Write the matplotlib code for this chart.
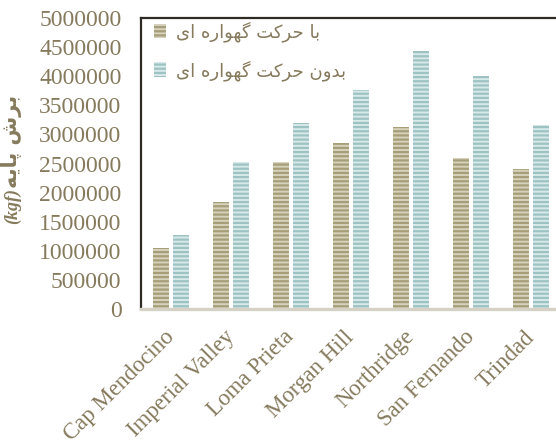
import numpy as np
import matplotlib
matplotlib.use("Agg")
import matplotlib.pyplot as plt
from matplotlib.patches import Patch

# ---------------- data ----------------
categories = ["Cap Mendocino", "Imperial Valley", "Loma Prieta", "Morgan Hill",
              "Northridge", "San Fernando", "Trindad"]
with_cradle = [1040000, 1840000, 2530000, 2860000, 3130000, 2600000, 2400000]
without_cradle = [1270000, 2530000, 3190000, 3770000, 4430000, 4000000, 3160000]
series_names = ["با حرکت گهواره ای", "بدون حرکت گهواره ای"]
ylabel_fa = "برش پایه"
ylabel_unit = "(kgf)"
yticks = [0, 500000, 1000000, 1500000, 2000000, 2500000, 3000000,
          3500000, 4000000, 4500000, 5000000]

# ------------- minimal Persian shaping -------------
FORMS = {
    "ا": ("\uFE8D", "\uFE8E", None, None),
    "ب": ("\uFE8F", "\uFE90", "\uFE91", "\uFE92"),
    "ح": ("\uFEA1", "\uFEA2", "\uFEA3", "\uFEA4"),
    "ر": ("\uFEAD", "\uFEAE", None, None),
    "ک": ("\uFB8E", "\uFB8F", "\uFB90", "\uFB91"),
    "ت": ("\uFE95", "\uFE96", "\uFE97", "\uFE98"),
    "گ": ("\uFB92", "\uFB93", "\uFB94", "\uFB95"),
    "ه": ("\uFEE9", "\uFEEA", "\uFEEB", "\uFEEC"),
    "و": ("\uFEED", "\uFEEE", None, None),
    "ی": ("\uFBFC", "\uFBFD", "\uFBFE", "\uFBFF"),
    "د": ("\uFEA9", "\uFEAA", None, None),
    "ن": ("\uFEE5", "\uFEE6", "\uFEE7", "\uFEE8"),
    "ش": ("\uFEB5", "\uFEB6", "\uFEB7", "\uFEB8"),
    "پ": ("\uFB56", "\uFB57", "\uFB58", "\uFB59"),
}


def dual(c):
    return c in FORMS and FORMS[c][2] is not None


def shape(s):
    out = []
    for i, c in enumerate(s):
        if c not in FORMS:
            out.append(c)
            continue
        jp = i > 0 and dual(s[i - 1])
        jn = dual(c) and i + 1 < len(s) and s[i + 1] in FORMS
        iso, fin, ini, med = FORMS[c]
        if jp and jn:
            out.append(med)
        elif jp:
            out.append(fin)
        elif jn:
            out.append(ini)
        else:
            out.append(iso)
    return "".join(out)[::-1]


# ---------------- style ----------------
txt_color = "#857a5c"
brown_dark, brown_light = "#a59e78", "#d6d2bc"
blue_dark, blue_light = "#9cc2c2", "#d8e9e9"
plt.rcParams["hatch.linewidth"] = 1.6

fig = plt.figure(figsize=(5.56, 4.45), dpi=100)
ax = fig.add_axes([141 / 556, 136 / 445, 420 / 556, 291 / 445])

x = np.arange(len(categories))
w = 0.265
off = 0.162
ax.bar(x - off, with_cradle, w, color=brown_light, edgecolor=brown_dark,
       hatch="----", linewidth=0)
ax.bar(x + off, without_cradle, w, color=blue_light, edgecolor=blue_dark,
       hatch="----", linewidth=0)

ax.set_xlim(-0.5, len(categories) - 0.5)
ax.set_ylim(0, 5000000)
ax.set_yticks(yticks)
ax.set_yticklabels([str(v) for v in yticks], family="Liberation Serif",
                   fontsize=17, color=txt_color)
ax.set_xticks(x)
ax.set_xticklabels(categories, family="Liberation Serif", fontsize=16.5,
                   color=txt_color, rotation=45, ha="right", va="center",
                   rotation_mode="anchor")
ax.tick_params(axis="both", length=0)
ax.tick_params(axis="y", pad=14)
ax.tick_params(axis="x", pad=18)

for s in ["left", "top"]:
    ax.spines[s].set_color("#2e2a24")
    ax.spines[s].set_linewidth(1.6)
ax.spines["right"].set_visible(False)
ax.spines["bottom"].set_color("#d5d1c5")
ax.spines["bottom"].set_linewidth(2.4)

handles = [Patch(facecolor=brown_light, edgecolor=brown_dark, hatch="----", linewidth=0),
           Patch(facecolor=blue_light, edgecolor=blue_dark, hatch="----", linewidth=0)]
ax.legend(handles, [shape(n) for n in series_names], loc="upper left",
          bbox_to_anchor=(-0.008, 1.045), frameon=False, handlelength=0.65,
          handleheight=0.9, handletextpad=0.6, labelspacing=1.0,
          prop={"family": "DejaVu Sans", "size": 13}, labelcolor=txt_color)

# y label: Persian part + unit
fig.text(12 / 556, 1 - 188 / 445, shape(ylabel_fa), rotation=90, ha="center",
         va="bottom", family="DejaVu Sans", fontweight="bold", fontsize=15,
         color=txt_color)
fig.text(12 / 556, 1 - 188 / 445, ylabel_unit, rotation=90, ha="center",
         va="top", family="Liberation Serif", fontweight="bold",
         style="italic", fontsize=13, color=txt_color)

fig.savefig("out.png", dpi=100)
